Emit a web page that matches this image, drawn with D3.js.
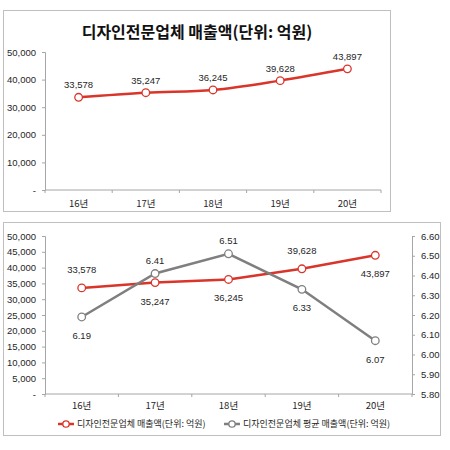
<!DOCTYPE html>
<html><head><meta charset="utf-8">
<script src="https://cdn.jsdelivr.net/npm/d3@7"></script>
<style>body{margin:0;background:#fff}svg{display:block;font-family:"Liberation Sans","Noto Sans CJK KR",sans-serif}</style>
</head><body><svg id="c" width="450" height="450"></svg>
<script>
const categories = ["16년","17년","18년","19년","20년"];
const sales = [33578,35247,36245,39628,43897];
const avgSales = [6.19,6.41,6.51,6.33,6.07];
const salesLabelPos = ["above","below","below","above","below"];
const avgLabelPos = ["below","above","above","below","below"];
const leftTicks1 = [0,10000,20000,30000,40000,50000];
const leftTicks2 = [0,5000,10000,15000,20000,25000,30000,35000,40000,45000,50000];
const rightTicks = [5.8,5.9,6.0,6.1,6.2,6.3,6.4,6.5,6.6];
const title = "디자인전문업체 매출액(단위: 억원)";
const legendNames = ["디자인전문업체 매출액(단위: 억원)","디자인전문업체 평균 매출액(단위: 억원)"];

const RED = "#d9352a", GREY = "#7f7f7f", AX = "#a6a6a6", TXT = "#262626";
const svg = d3.select("#c");
const fmt = d => d === 0 ? "-" : d3.format(",")(d);
const kfont = "'Noto Sans CJK KR',sans-serif";

// ---------- Chart 1 ----------
const g1 = svg.append("g");
g1.append("rect").attr("x",3.5).attr("y",10.5).attr("width",387).attr("height",201)
  .attr("fill","#fff").attr("stroke","#bfbfbf");
g1.append("text").attr("x",197).attr("y",38).attr("text-anchor","middle")
  .attr("font-family",kfont).attr("font-weight","bold").attr("font-size",16).attr("fill","#111").text(title);

const x1 = d3.scaleBand().domain(categories).range([45,381]);
const y1 = d3.scaleLinear().domain([0,50000]).range([190,52]);
g1.append("g").attr("transform","translate(45,0)")
  .call(d3.axisLeft(y1).tickValues(leftTicks1).tickFormat(fmt).tickSize(3).tickPadding(6))
  .call(a=>{a.select(".domain").attr("stroke",AX);a.selectAll("line").attr("stroke",AX);
    a.selectAll("text").attr("font-size",9.5).attr("fill",TXT).attr("font-family","'Liberation Sans',sans-serif");});
const xa1 = g1.append("g").attr("transform","translate(0,190)");
xa1.append("line").attr("x1",45).attr("x2",381).attr("stroke",AX);
xa1.selectAll("line.t").data(d3.range(categories.length+1)).join("line").attr("class","t")
  .attr("x1",i=>45+i*x1.step()).attr("x2",i=>45+i*x1.step()).attr("y1",0).attr("y2",3).attr("stroke",AX);
xa1.selectAll("text").data(categories).join("text")
  .attr("x",d=>x1(d)+x1.bandwidth()/2).attr("y",17).attr("text-anchor","middle")
  .attr("font-size",9.5).attr("fill",TXT).attr("font-family",kfont).text(d=>d);

const line1 = d3.line().x((d,i)=>x1(categories[i])+x1.bandwidth()/2).y(d=>y1(d)).curve(d3.curveMonotoneX);
g1.append("path").datum(sales).attr("d",line1).attr("fill","none").attr("stroke",RED).attr("stroke-width",2.5);
g1.selectAll("circle").data(sales).join("circle")
  .attr("cx",(d,i)=>x1(categories[i])+x1.bandwidth()/2).attr("cy",d=>y1(d)).attr("r",3.8)
  .attr("fill","#fff").attr("stroke",RED).attr("stroke-width",1.3);
g1.selectAll("text.lab").data(sales).join("text").attr("class","lab")
  .attr("x",(d,i)=>x1(categories[i])+x1.bandwidth()/2).attr("y",d=>y1(d)-9)
  .attr("text-anchor","middle").attr("font-size",9.5).attr("fill",TXT).text(d3.format(","));

// ---------- Chart 2 ----------
const g2 = svg.append("g");
g2.append("rect").attr("x",3.5).attr("y",222.5).attr("width",437).attr("height",213)
  .attr("fill","#fff").attr("stroke","#bfbfbf");
const x2 = d3.scaleBand().domain(categories).range([45,412]);
const yL = d3.scaleLinear().domain([0,50000]).range([394,236]);
const yR = d3.scaleLinear().domain([5.8,6.6]).range([394,236]);
g2.append("g").attr("transform","translate(45,0)")
  .call(d3.axisLeft(yL).tickValues(leftTicks2).tickFormat(fmt).tickSize(3).tickPadding(6))
  .call(a=>{a.select(".domain").attr("stroke",AX);a.selectAll("line").attr("stroke",AX);
    a.selectAll("text").attr("font-size",9.5).attr("fill",TXT).attr("font-family","'Liberation Sans',sans-serif");});
g2.append("g").attr("transform","translate(412,0)")
  .call(d3.axisRight(yR).tickValues(rightTicks).tickFormat(d3.format(".2f")).tickSize(3).tickPadding(6))
  .call(a=>{a.select(".domain").attr("stroke",AX);a.selectAll("line").attr("stroke",AX);
    a.selectAll("text").attr("font-size",9.5).attr("fill",TXT).attr("font-family","'Liberation Sans',sans-serif");});
const xa2 = g2.append("g").attr("transform","translate(0,394)");
xa2.append("line").attr("x1",45).attr("x2",412).attr("stroke",AX);
xa2.selectAll("line.t").data(d3.range(categories.length+1)).join("line").attr("class","t")
  .attr("x1",i=>45+i*x2.step()).attr("x2",i=>45+i*x2.step()).attr("y1",0).attr("y2",3).attr("stroke",AX);
xa2.selectAll("text").data(categories).join("text")
  .attr("x",d=>x2(d)+x2.bandwidth()/2).attr("y",15).attr("text-anchor","middle")
  .attr("font-size",9.5).attr("fill",TXT).attr("font-family",kfont).text(d=>d);

const cx2 = (d,i)=>x2(categories[i])+x2.bandwidth()/2;
const lineL = d3.line().x(cx2).y(d=>yL(d));
const lineR = d3.line().x(cx2).y(d=>yR(d));
g2.append("path").datum(sales).attr("d",lineL).attr("fill","none").attr("stroke",RED).attr("stroke-width",2.5);
g2.append("path").datum(avgSales).attr("d",lineR).attr("fill","none").attr("stroke",GREY).attr("stroke-width",2.5);
g2.selectAll("circle.r").data(sales).join("circle").attr("class","r")
  .attr("cx",cx2).attr("cy",d=>yL(d)).attr("r",3.8).attr("fill","#fff").attr("stroke",RED).attr("stroke-width",1.3);
g2.selectAll("circle.g").data(avgSales).join("circle").attr("class","g")
  .attr("cx",cx2).attr("cy",d=>yR(d)).attr("r",3.8).attr("fill","#fff").attr("stroke",GREY).attr("stroke-width",1.3);
g2.selectAll("text.lr").data(sales).join("text").attr("class","lr")
  .attr("x",cx2).attr("y",(d,i)=>yL(d)+(salesLabelPos[i]==="above"?-15:22))
  .attr("text-anchor","middle").attr("font-size",9.5).attr("fill",TXT).text(d3.format(","));
g2.selectAll("text.lg").data(avgSales).join("text").attr("class","lg")
  .attr("x",cx2).attr("y",(d,i)=>yR(d)+(avgLabelPos[i]==="above"?-10:22))
  .attr("text-anchor","middle").attr("font-size",9.5).attr("fill",TXT).text(d3.format(".2f"));

// legend
const leg = g2.append("g").attr("transform","translate(0,424)");
const legItems = [{x:58,c:RED,t:legendNames[0]},{x:224,c:GREY,t:legendNames[1]}];
legItems.forEach(it=>{
  leg.append("line").attr("x1",it.x).attr("x2",it.x+16).attr("y1",0).attr("y2",0).attr("stroke",it.c).attr("stroke-width",2.5);
  leg.append("circle").attr("cx",it.x+8).attr("cy",0).attr("r",3.2).attr("fill","#fff").attr("stroke",it.c).attr("stroke-width",1.3);
  leg.append("text").attr("x",it.x+19).attr("y",3.3).attr("font-size",9).attr("fill",TXT).attr("font-family",kfont).text(it.t);
});
</script></body></html>
